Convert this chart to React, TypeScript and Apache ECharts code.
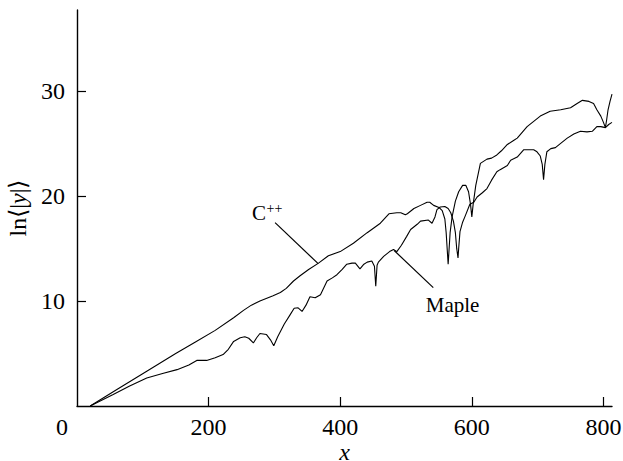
import React, { useEffect, useRef } from "react";
import * as echarts from "echarts";

// Growth of ln<|y|> with x for the two implementations
const cppPoints: [number, number][] = [
  [20, 0], [60, 1.55], [106, 3.3], [150, 5.0], [180, 6.1], [210, 7.2], [238, 8.4],
  [253, 9.1], [265, 9.6], [278, 10.0], [298, 10.5], [309, 10.8], [318, 11.2], [329, 11.9],
  [339, 12.4], [352, 13.0], [367, 13.6], [382, 14.3], [400, 14.7], [420, 15.5], [441, 16.5],
  [461, 17.4], [474, 18.3], [486, 18.4], [492, 18.4], [499, 18.2], [502, 18.3], [512, 18.8],
  [522, 19.1], [532, 19.4], [536, 19.4], [542, 19.1], [550, 18.9], [555, 18.6], [559, 17.8],
  [561, 16.5], [563, 14.5], [564, 13.5], [565, 14.5], [567, 16.5], [570, 18.0], [575, 19.5],
  [580, 20.4], [586, 21.0], [591, 21.0], [595, 20.4], [598, 19.2], [600, 18.0], [602, 19.2],
  [606, 21.0], [613, 23.1], [623, 23.5], [630, 23.6], [638, 23.9], [645, 24.3], [654, 24.9],
  [664, 25.3], [669, 25.5], [684, 26.6], [694, 27.1], [704, 27.6], [719, 28.06], [735, 28.2],
  [750, 28.4], [760, 28.8], [768, 29.1], [778, 29.0], [785, 28.8], [790, 28.2], [796, 27.6],
  [800, 27.0], [803, 26.5], [805, 27.3], [807, 28.2], [810, 29.0], [813, 29.7],
];

const maplePoints: [number, number][] = [
  [20, 0], [55, 1.1], [80, 1.9], [106, 2.67], [130, 3.1], [152, 3.46], [170, 3.9], [182, 4.34],
  [197, 4.34], [210, 4.6], [222, 4.9], [230, 5.4], [238, 6.15], [248, 6.5], [255, 6.6],
  [261, 6.45], [268, 6.0], [273, 6.5], [278, 6.9], [288, 6.8], [294, 6.3], [299, 5.74],
  [305, 6.6], [315, 7.8], [324, 8.7], [330, 9.3], [336, 9.35], [342, 9.0], [348, 9.6],
  [354, 10.4], [362, 10.3], [370, 10.6], [380, 11.9], [388, 12.2], [395, 12.5], [403, 13.0],
  [410, 13.5], [418, 13.6], [423, 13.6], [430, 13.05], [436, 13.5], [441, 13.7], [448, 13.8],
  [452, 13.3], [454, 11.4], [456, 13.4], [458, 13.7], [466, 14.25], [475, 14.7], [481, 14.9],
  [486, 14.7], [493, 15.3], [501, 16.15], [507, 16.8], [517, 17.3], [522, 17.6], [534, 17.7],
  [539.5, 17.4], [544, 18.0], [547, 18.7], [552, 18.95], [559, 19.0], [564, 18.8], [568, 18.4],
  [572, 17.6], [575, 16.5], [577, 15.0], [579, 14.1], [580, 15.0], [582, 16.6], [586, 17.5],
  [590, 18.1], [597, 19.2], [603, 19.4], [608, 19.9], [616, 20.3], [623, 20.7], [630, 21.5],
  [638, 22.3], [643, 22.5], [654, 22.9], [659, 23.4], [669, 23.7], [679, 24.4], [694, 24.4],
  [699, 24.2], [704, 23.8], [707, 23.0], [709, 21.55], [711, 23.0], [714, 24.2], [720, 24.5],
  [727, 24.6], [735, 25.0], [745, 25.5], [755, 25.9], [765, 26.15], [775, 26.1], [783, 26.15],
  [790, 26.6], [796, 26.6], [803, 26.5], [808, 26.8], [813, 27.0],
];

const xTicks = [0, 200, 400, 600, 800];
const yTicks = [10, 20, 30];

// Callout anchors (data coordinates): leader start, leader end, text anchor (left, vertical centre)
const cppCallout = { from: [301, 17.46], to: [366.5, 13.55], text: [266, 18.37] };
const mapleCallout = { from: [482, 14.8], to: [541.4, 11.27], text: [530, 9.65] };

const SERIF = "'Liberation Serif', 'Times New Roman', serif";
const INK = "#000";

export default function App() {
  const ref = useRef<HTMLDivElement>(null);

  useEffect(() => {
    if (!ref.current) return;
    document.body.style.margin = "0";
    const chart = echarts.init(ref.current, undefined, { renderer: "svg" });

    chart.setOption({
      animation: false,
      backgroundColor: "#fff",
      textStyle: { fontFamily: SERIF },
      grid: { left: 77, right: 11, top: 10, bottom: 55, outerBoundsMode: "none" },
      xAxis: {
        type: "value",
        min: 0,
        max: 813,
        name: "x",
        nameLocation: "middle",
        nameGap: 34,
        nameMoveOverlap: false,
        nameTextStyle: { fontFamily: SERIF, fontSize: 24, fontStyle: "italic", color: INK },
        axisLine: { lineStyle: { color: INK, width: 1.4 } },
        axisTick: { inside: true, length: 9, customValues: [200, 400, 600, 800], lineStyle: { color: INK, width: 1.2 } },
        splitLine: { show: false },
        axisLabel: {
          customValues: xTicks,
          margin: 9,
          fontFamily: SERIF,
          fontSize: 24,
          color: INK,
          formatter: (v: number) => (v === 0 ? "{o|0}" : String(v)),
          rich: { o: { fontFamily: SERIF, fontSize: 24, color: INK, padding: [0, 30, 0, 0] } },
        },
      },
      yAxis: {
        type: "value",
        min: 0,
        max: 37.7,
        name: "ln⟨|{i|y}|⟩",
        nameLocation: "middle",
        nameGap: 44,
        nameRotate: 90,
        nameTextStyle: {
          fontFamily: SERIF,
          fontSize: 24,
          color: INK,
          rich: { i: { fontFamily: SERIF, fontSize: 24, fontStyle: "italic", color: INK } },
        },
        axisLine: { lineStyle: { color: INK, width: 1.4 } },
        axisTick: { inside: true, length: 9, customValues: yTicks, lineStyle: { color: INK, width: 1.2 } },
        splitLine: { show: false },
        axisLabel: { customValues: yTicks, margin: 12, fontFamily: SERIF, fontSize: 24, color: INK },
      },
      series: [
        {
          name: "C++",
          type: "line",
          data: cppPoints,
          showSymbol: false,
          lineStyle: { color: INK, width: 1.1 },
        },
        {
          name: "Maple",
          type: "line",
          data: maplePoints,
          showSymbol: false,
          lineStyle: { color: INK, width: 1.1 },
        },
      ],
    });

    const px = (p: number[]) => chart.convertToPixel({ gridIndex: 0 }, p) as number[];
    const leader = (c: { from: number[]; to: number[] }) => {
      const a = px(c.from);
      const b = px(c.to);
      return {
        type: "line",
        shape: { x1: a[0], y1: a[1], x2: b[0], y2: b[1] },
        style: { stroke: INK, lineWidth: 1.2 },
      };
    };
    const cT = px(cppCallout.text);
    const mT = px(mapleCallout.text);

    chart.setOption({
      graphic: [
        leader(cppCallout),
        leader(mapleCallout),
        {
          type: "text",
          x: cT[0],
          y: cT[1],
          style: { text: "C", fontFamily: SERIF, fontSize: 21, fill: INK, verticalAlign: "middle" },
        },
        {
          type: "text",
          x: cT[0] + 14.5,
          y: cT[1] - 5,
          style: { text: "++", fontFamily: SERIF, fontSize: 14, fill: INK, verticalAlign: "middle" },
        },
        {
          type: "text",
          x: mT[0],
          y: mT[1],
          style: { text: "Maple", fontFamily: SERIF, fontSize: 21, fill: INK, verticalAlign: "middle" },
        },
      ],
    });

    return () => chart.dispose();
  }, []);

  return <div ref={ref} style={{ width: 623, height: 461 }} />;
}
